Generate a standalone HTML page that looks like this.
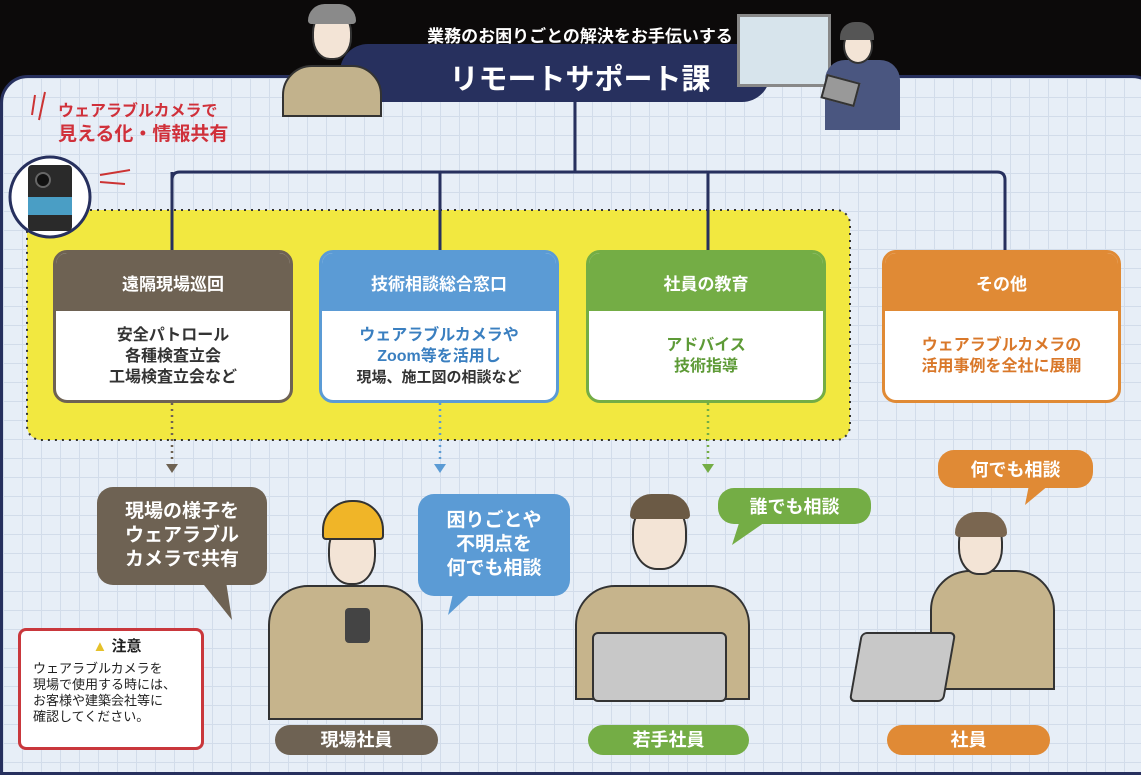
<!DOCTYPE html><html><head><meta charset="utf-8"><style>
*{margin:0;padding:0;box-sizing:border-box}
body{width:1141px;height:760px;overflow:hidden;background:#0c0a0a;position:relative;font-family:"Liberation Sans","Noto Sans CJK JP",sans-serif}
.abs{position:absolute}
#panel{left:0;top:75px;width:1160px;height:700px;border-radius:28px 28px 0 0;border:3px solid #27305e;background-color:#e7eef7;background-image:linear-gradient(#d2dcea 1px,transparent 1px),linear-gradient(90deg,#d2dcea 1px,transparent 1px);background-size:19px 19px}
.box{position:absolute;border-radius:14px;overflow:hidden;background:#fff;border:3px solid}
.box .h{height:58px;color:#fff;font-size:17px;font-weight:bold;display:flex;align-items:center;justify-content:center}
.box .b{display:flex;align-items:center;justify-content:center;text-align:center;height:90px;font-size:16px;font-weight:bold;line-height:21px}
.bub{position:absolute;border-radius:16px;color:#fff;font-weight:bold;text-align:center;display:flex;align-items:center;justify-content:center}
.pill{position:absolute;border-radius:16px;color:#fff;font-weight:bold;font-size:18px;text-align:center;line-height:30px;height:30px}
</style></head><body>
<div id="panel" class="abs"></div>
<!-- title -->
<div class="abs" style="left:340px;top:44px;width:430px;height:58px;background:#27305e;border-radius:28px"></div>
<div class="abs" style="left:380px;top:22px;width:400px;text-align:center;color:#fff;font-size:17px;font-weight:bold;white-space:nowrap">業務のお困りごとの解決をお手伝いする</div>
<div class="abs" style="left:400px;top:56px;width:360px;text-align:center;color:#fff;font-size:29px;font-weight:bold;white-space:nowrap">リモートサポート課</div>
<!-- whiteboard & woman -->
<div class="abs" style="left:737px;top:14px;width:94px;height:73px;background:#d7e4ec;border:3px solid #888"></div>
<div class="abs" style="left:825px;top:60px;width:75px;height:70px;background:#4a5680;border-radius:20px 20px 0 0"></div>
<div class="abs" style="left:843px;top:28px;width:30px;height:36px;background:#f3e4d6;border-radius:50%;border:2px solid #333"></div>
<div class="abs" style="left:840px;top:22px;width:34px;height:18px;background:#555;border-radius:15px 15px 0 0"></div>
<div class="abs" style="left:823px;top:78px;width:35px;height:25px;background:#999;border:2px solid #333;transform:rotate(15deg)"></div>
<!-- man headset -->
<div class="abs" style="left:282px;top:65px;width:100px;height:52px;background:#c2b28c;border:2px solid #333;border-radius:30px 30px 0 0"></div>
<div class="abs" style="left:312px;top:10px;width:40px;height:50px;background:#f3e4d6;border:2px solid #333;border-radius:45%"></div>
<div class="abs" style="left:308px;top:4px;width:48px;height:20px;background:#8a8a8a;border-radius:20px 20px 4px 4px"></div>
<!-- connectors -->
<svg class="abs" style="left:0;top:0" width="1141" height="760">
<path d="M575 100V172M172 250V180Q172 172 180 172H997Q1005 172 1005 180V250M440 172V250M708 172V250" stroke="#27305e" stroke-width="3" fill="none"/>
<rect x="27" y="210" width="823" height="230" rx="14" fill="#f2e840" stroke="#333" stroke-width="2" stroke-dasharray="2 5"/>
<path d="M172 250V172" stroke="#27305e" stroke-width="3"/><path d="M440 250V172" stroke="#27305e" stroke-width="3"/><path d="M708 250V172" stroke="#27305e" stroke-width="3"/>
<path d="M172 403V462" stroke="#6e6253" stroke-width="2.5" stroke-dasharray="2 4"/><path d="M166 464h12l-6 9z" fill="#6e6253"/>
<path d="M440 403V462" stroke="#5b9bd5" stroke-width="2.5" stroke-dasharray="2 4"/><path d="M434 464h12l-6 9z" fill="#5b9bd5"/>
<path d="M708 403V462" stroke="#74ad45" stroke-width="2.5" stroke-dasharray="2 4"/><path d="M702 464h12l-6 9z" fill="#74ad45"/>
<path d="M200 580L232 620L225 575z" fill="#6e6253"/>
<path d="M455 585L448 615L480 585z" fill="#5b9bd5"/>
<path d="M740 520L732 545L768 520z" fill="#74ad45"/>
<path d="M1030 480L1025 505L1055 480z" fill="#e08a35"/>
<path d="M35 95l-3 20M45 92l-6 28M100 175l30-5M100 182l25 2" stroke="#c33" stroke-width="2"/>
<circle cx="50" cy="197" r="40" fill="#fff" stroke="#27305e" stroke-width="3"/>
<rect x="28" y="165" width="44" height="66" rx="4" fill="#2a2a2a"/><rect x="28" y="197" width="44" height="18" fill="#4a9ec5"/><circle cx="43" cy="180" r="7" fill="#111" stroke="#666" stroke-width="2"/>
</svg>
<div class="abs" style="left:58px;top:100px;color:#d0303a;font-size:16px;font-weight:bold;line-height:23px">ウェアラブルカメラで<br><span style="font-size:19px">見える化・情報共有</span></div>
<!-- boxes -->
<div class="box" style="left:53px;top:250px;width:240px;height:153px;border-color:#6e6253"><div class="h" style="background:#6e6253">遠隔現場巡回</div><div class="b" style="color:#333"><div>安全パトロール<br>各種検査立会<br>工場検査立会など</div></div></div>
<div class="box" style="left:319px;top:250px;width:240px;height:153px;border-color:#5b9bd5"><div class="h" style="background:#5b9bd5">技術相談総合窓口</div><div class="b" style="color:#3a7fc0"><div>ウェアラブルカメラや<br>Zoom等を活用し<br><span style="color:#333;font-size:15px">現場、施工図の相談など</span></div></div></div>
<div class="box" style="left:586px;top:250px;width:240px;height:153px;border-color:#74ad45"><div class="h" style="background:#74ad45">社員の教育</div><div class="b" style="color:#5d9a36"><div>アドバイス<br>技術指導</div></div></div>
<div class="box" style="left:882px;top:250px;width:239px;height:153px;border-color:#e08a35"><div class="h" style="background:#e08a35">その他</div><div class="b" style="color:#d9782a"><div>ウェアラブルカメラの<br>活用事例を全社に展開</div></div></div>
<!-- bubbles -->
<div class="bub" style="left:97px;top:487px;width:170px;height:98px;background:#6e6253;font-size:19px;line-height:24px">現場の様子を<br>ウェアラブル<br>カメラで共有</div>
<div class="bub" style="left:418px;top:494px;width:152px;height:102px;background:#5b9bd5;font-size:19px;line-height:24px">困りごとや<br>不明点を<br>何でも相談</div>
<div class="bub" style="left:718px;top:488px;width:153px;height:36px;background:#74ad45;font-size:18px">誰でも相談</div>
<div class="bub" style="left:938px;top:450px;width:155px;height:38px;background:#e08a35;font-size:18px">何でも相談</div>
<!-- caution -->
<div class="abs" style="left:18px;top:628px;width:186px;height:122px;background:#fff;border:3px solid #c9373c;border-radius:8px;font-size:13px;line-height:16px;color:#222;padding:8px 0 0 12px">
<div style="text-align:center;font-weight:bold;font-size:15px;margin-bottom:6px"><span style="color:#e5c12a">▲</span> 注意</div>ウェアラブルカメラを<br>現場で使用する時には、<br>お客様や建築会社等に<br>確認してください。</div>
<!-- people -->
<div class="abs" style="left:268px;top:585px;width:155px;height:135px;background:#c6b48c;border:2px solid #333;border-radius:40px 40px 0 0"></div>
<div class="abs" style="left:328px;top:520px;width:48px;height:65px;background:#f3e4d6;border:2px solid #333;border-radius:45%"></div>
<div class="abs" style="left:322px;top:500px;width:62px;height:40px;background:#f0b528;border:2px solid #333;border-radius:30px 30px 4px 4px"></div>
<div class="abs" style="left:345px;top:608px;width:25px;height:35px;background:#444;border-radius:4px"></div>
<div class="abs" style="left:575px;top:585px;width:175px;height:115px;background:#c6b48c;border:2px solid #333;border-radius:40px 40px 0 0"></div>
<div class="abs" style="left:632px;top:500px;width:55px;height:70px;background:#f3e4d6;border:2px solid #333;border-radius:45%"></div>
<div class="abs" style="left:630px;top:494px;width:60px;height:25px;background:#6b5a45;border-radius:30px 30px 5px 5px"></div>
<div class="abs" style="left:592px;top:632px;width:135px;height:70px;background:#c8c8c8;border:2px solid #333;border-radius:6px"></div>
<div class="abs" style="left:930px;top:570px;width:125px;height:120px;background:#c6b48c;border:2px solid #333;border-radius:40px 40px 0 0"></div>
<div class="abs" style="left:958px;top:515px;width:45px;height:60px;background:#f3e4d6;border:2px solid #333;border-radius:45%"></div>
<div class="abs" style="left:955px;top:512px;width:52px;height:25px;background:#7a6650;border-radius:25px 25px 5px 5px"></div>
<div class="abs" style="left:855px;top:632px;width:95px;height:70px;background:#c8c8c8;border:2px solid #333;border-radius:6px;transform:skewX(-10deg)"></div>
<!-- labels -->
<div class="pill" style="left:275px;top:725px;width:163px;background:#6e6253">現場社員</div>
<div class="pill" style="left:588px;top:725px;width:161px;background:#74ad45">若手社員</div>
<div class="pill" style="left:887px;top:725px;width:163px;background:#e08a35">社員</div>
</body></html>
